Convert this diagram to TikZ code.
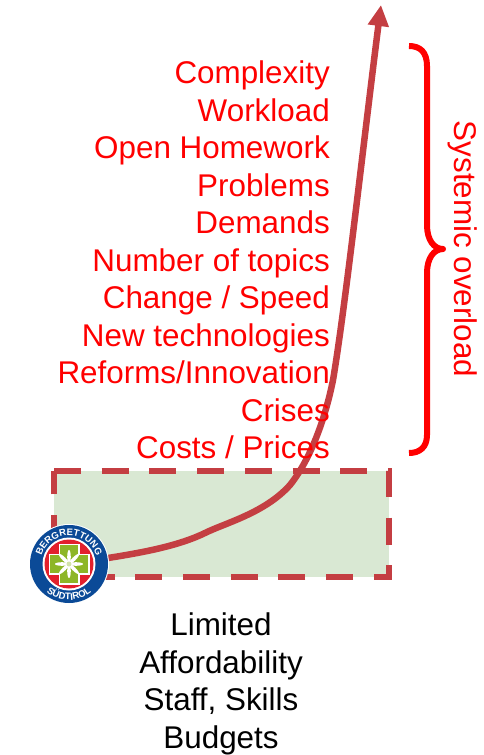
\documentclass[tikz,border=0pt]{standalone}
\usepackage{fontspec}
\setmainfont{Liberation Sans}
\usetikzlibrary{arrows.meta,decorations.text}
\definecolor{curvered}{HTML}{C43E42}
\definecolor{boxgreen}{HTML}{D9E8D3}
\definecolor{logoblue}{HTML}{0B4A97}
\definecolor{logored}{HTML}{E2202C}
\definecolor{logogreen}{HTML}{8DB626}
\tikzset{
  redlabel/.style={text=red,font=\fontsize{31.4}{37.5}\selectfont},
  blacklabel/.style={text=black,font=\fontsize{31.4}{37.5}\selectfont},
  logotext/.style={decorate,decoration={text along path,text align=center,
      text={|\fontsize{9.5}{9.5}\selectfont\bfseries\color{white}|#1}}}
}
\begin{document}
\begin{tikzpicture}[x=1pt,y=-1pt]
  \useasboundingbox (0,0) rectangle (484,755);
  \coordinate (logo) at (69,564);
  \coordinate (tip) at (381,5);

  % limited box
  \fill[boxgreen] (54,471) rectangle (389,577);
  \draw[curvered,line width=6pt,dash pattern=on 27pt off 20.7pt]
    (54,471) -- (389,471) -- (389,577) -- (54,577) -- cycle;

  % growth curve
  \draw[curvered,line width=6.5pt,-{Triangle[length=21pt,width=20pt]}]
    (logo) .. controls (120,556) and (170,550) .. (205,533)
    .. controls (225,523) and (265,513) .. (290,485)
    .. controls (310,460) and (325,420) .. (333,380)
    .. controls (345,310) and (365,130) .. (tip);

  % texts
  \node[redlabel,align=right,anchor=north east,inner sep=0pt] (demands) at (330,60.8)
    {Complexity\\Workload\\Open Homework\\Problems\\Demands\\Number of topics\\
     Change / Speed\\New technologies\\Reforms/Innovation\\Crises\\Costs / Prices};
  \node[blacklabel,align=center,anchor=north,inner sep=0pt] (limits) at (221,613)
    {Limited\\Affordability\\Staff, Skills\\Budgets};

  % brace
  \draw[red,line width=6pt,line join=round]
    (409,46) .. controls (420,46) and (427,52) .. (427,66)
    -- (427,225) .. controls (427,240) and (434,249) .. (443,249)
    .. controls (434,249) and (427,258) .. (427,273)
    -- (427,435) .. controls (427,447) and (420,453) .. (409,453);
  \node[redlabel,rotate=-90,inner sep=0pt] (overload) at (463,249) {Systemic overload};

  % logo
  \fill[white] (logo) circle (40);
  \fill[logoblue] (logo) circle (39);
  \fill[white] (logo) circle (26.5);
  \fill[logored] (logo) circle (24.5);
  \fill[white] ([shift={(-20.5,-10.5)}]logo) rectangle ([shift={(20.5,10.5)}]logo);
  \fill[white] ([shift={(-10.5,-20.5)}]logo) rectangle ([shift={(10.5,20.5)}]logo);
  \fill[logogreen] ([shift={(-19,-9)}]logo) rectangle ([shift={(19,9)}]logo);
  \fill[logogreen] ([shift={(-9,-19)}]logo) rectangle ([shift={(9,19)}]logo);
  \foreach \ang in {0,45,...,315}
    \fill[white,rotate around={\ang:(logo)}] ([xshift=7pt]logo) ellipse (7 and 1.8);
  \fill[logogreen!40!white] (logo) circle (2.5);
  \path[logotext=BERGRETTUNG] ([shift={(188:28.5)}]logo) arc (188:352:28.5);
  \path[logotext=SÜDTIROL] ([shift={(150:36)}]logo) arc (150:30:36);
\end{tikzpicture}
\end{document}
